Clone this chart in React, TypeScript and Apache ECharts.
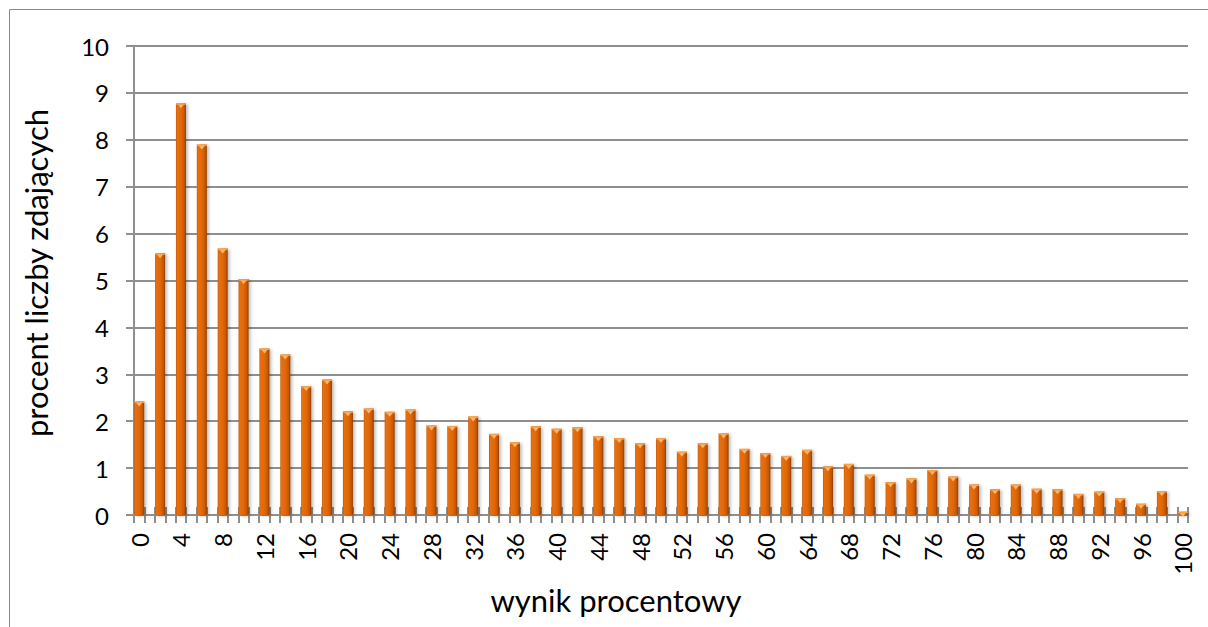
import React, { useEffect, useRef } from "react";
import * as echarts from "echarts";

// Category axis: every percent score 0..100 (bars only at even scores)
const scoreCategories: string[] = Array.from({ length: 101 }, (_, i) => String(i));
// Scores that have a bar
const barScores: number[] = [
  0, 2, 4, 6, 8, 10, 12, 14, 16, 18, 20, 22, 24, 26, 28, 30, 32, 34, 36, 38, 40,
  42, 44, 46, 48, 50, 52, 54, 56, 58, 60, 62, 64, 66, 68, 70, 72, 74, 76, 78, 80,
  82, 84, 86, 88, 90, 92, 94, 96, 98, 100,
];
// Percent of examinees for each score
const percentValues: number[] = [
  2.42, 5.58, 8.78, 7.9, 5.68, 5.03, 3.55, 3.42, 2.75, 2.89, 2.21, 2.27, 2.2,
  2.25, 1.91, 1.9, 2.1, 1.73, 1.55, 1.89, 1.84, 1.87, 1.68, 1.64, 1.53, 1.64,
  1.35, 1.53, 1.74, 1.41, 1.32, 1.26, 1.39, 1.04, 1.09, 0.86, 0.7, 0.78, 0.96,
  0.82, 0.65, 0.55, 0.65, 0.56, 0.55, 0.45, 0.5, 0.36, 0.24, 0.51, 0.07,
];
const yTicks: number[] = [0, 1, 2, 3, 4, 5, 6, 7, 8, 9, 10];

const xTitle = "wynik procentowy";
const yTitle = "procent liczby zdających";

const FONT = "Lato, 'Noto Sans', sans-serif";
const GRAY = "#8f8f8f";

export default function App() {
  const ref = useRef<HTMLDivElement>(null);

  useEffect(() => {
    document.body.style.margin = "0";
    if (!ref.current) return;
    const chart = echarts.init(ref.current, null, { renderer: "svg" });

    const barData: (number | null)[] = scoreCategories.map(() => null);
    barScores.forEach((s, i) => {
      barData[s] = percentValues[i];
    });
    const capData = barScores.map((s, i) => [s, percentValues[i]]);

    const option: any = {
      animation: false,
      backgroundColor: "#ffffff",
      grid: { left: 134, right: 20, top: 46, bottom: 112, containLabel: false },
      xAxis: [
        {
          type: "category",
          data: scoreCategories,
          position: "bottom",
          boundaryGap: true,
          axisLine: { show: true, lineStyle: { color: GRAY, width: 2 } },
          axisTick: {
            show: true,
            interval: 0,
            length: 8,
            lineStyle: { color: GRAY, width: 2 },
          },
          axisLabel: {
            interval: 3,
            rotate: 90,
            margin: 18,
            fontSize: 24,
            color: "#000",
            fontFamily: FONT,
          },
          splitLine: { show: false },
        },
        {
          type: "category",
          data: scoreCategories,
          position: "bottom",
          boundaryGap: true,
          axisLine: { show: false },
          axisTick: {
            show: true,
            inside: true,
            interval: 0,
            length: 8,
            lineStyle: { color: GRAY, width: 2 },
          },
          axisLabel: { show: false },
          splitLine: { show: false },
        },
      ],
      yAxis: {
        type: "value",
        min: yTicks[0],
        max: yTicks[yTicks.length - 1],
        interval: 1,
        axisLine: { show: true, lineStyle: { color: GRAY, width: 2 } },
        axisTick: { show: true, length: 8, lineStyle: { color: GRAY, width: 2 } },
        axisLabel: {
          margin: 25,
          fontSize: 24,
          color: "#000",
          fontFamily: FONT,
        },
        splitLine: { show: true, lineStyle: { color: GRAY, width: 2 } },
      },
      series: [
        {
          type: "bar",
          xAxisIndex: 0,
          data: barData,
          barCategoryGap: "4%",
          itemStyle: {
            color: new echarts.graphic.LinearGradient(0, 0, 1, 0, [
              { offset: 0, color: "#c25808" },
              { offset: 0.12, color: "#e8700c" },
              { offset: 0.55, color: "#e06606" },
              { offset: 0.82, color: "#c55803" },
              { offset: 1, color: "#8a3d02" },
            ]),
            shadowColor: "rgba(0,0,0,0.25)",
            shadowBlur: 3,
            shadowOffsetX: 2,
            shadowOffsetY: 1,
          },
          z: 2,
        },
        {
          type: "custom",
          xAxisIndex: 0,
          data: capData,
          z: 3,
          silent: true,
          renderItem: (params: any, api: any) => {
            const idx = api.value(0);
            const v = api.value(1);
            const p = api.coord([idx, v]);
            const w = api.size([1, 0])[0] * 0.96;
            const tw = Math.min(3.2, w * 0.3);
            return {
              type: "group",
              children: [
                {
                  type: "rect",
                  shape: { x: p[0] - w / 2, y: p[1], width: w, height: 1.5 },
                  style: { fill: "#f7a14e" },
                },
                {
                  type: "polygon",
                  shape: {
                    points: [
                      [p[0] - tw, p[1] + 1.2],
                      [p[0] + tw, p[1] + 1.2],
                      [p[0], p[1] + 5],
                    ],
                  },
                  style: { fill: "#fbb66e" },
                },
              ],
            };
          },
        },
      ],
      graphic: [
        {
          type: "rect",
          shape: { x: 9.5, y: 9.5, width: 1215, height: 640 },
          style: { fill: "none", stroke: "#8a8a8a", lineWidth: 1 },
          silent: true,
        },
        {
          type: "text",
          x: 616,
          y: 600,
          style: {
            text: xTitle,
            fontSize: 31,
            fontFamily: FONT,
            fill: "#000",
            align: "center",
            verticalAlign: "middle",
          },
        },
        {
          type: "text",
          x: 36,
          y: 273,
          rotation: Math.PI / 2,
          style: {
            text: yTitle,
            fontSize: 31,
            fontFamily: FONT,
            fill: "#000",
            align: "center",
            verticalAlign: "middle",
          },
        },
      ],
    };

    chart.setOption(option);
    return () => chart.dispose();
  }, []);

  return <div ref={ref} style={{ width: 1208, height: 627 }} />;
}
